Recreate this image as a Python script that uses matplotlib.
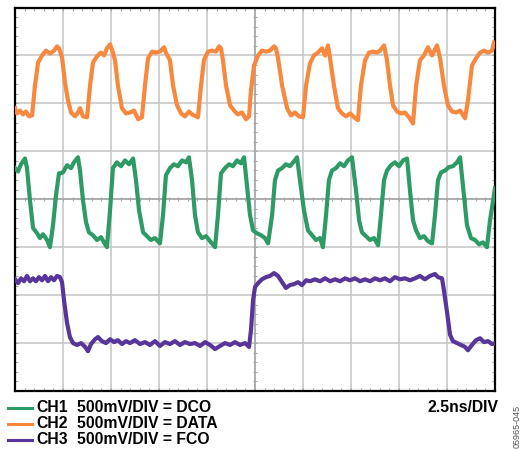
import matplotlib
matplotlib.use("Agg")
import matplotlib.pyplot as plt
from matplotlib.lines import Line2D
import numpy as np

plt.rcParams['font.family'] = ['Liberation Sans', 'DejaVu Sans']

# time in ns (2.5 ns/div), level in screen divisions (0 = centre line)
data_t = [0, 0.10, 0.26, 0.42, 0.57, 0.73, 0.89,
          1.04, 1.20, 1.41, 1.61, 1.82, 2.03, 2.19, 2.29, 2.45, 2.60, 2.76, 2.92, 3.125, 3.28, 3.385, 3.54, 3.75,
          3.91, 4.06, 4.27, 4.48, 4.635, 4.79, 4.95, 5.10, 5.21, 5.36, 5.57, 5.78, 5.99, 6.20, 6.41, 6.61,
          6.77, 6.93, 7.135, 7.34, 7.55, 7.76, 7.86, 8.07, 8.23, 8.44, 8.65, 8.85, 9.06, 9.22, 9.53,
          9.69, 9.84, 10.05, 10.26, 10.47, 10.625, 10.73, 10.83, 10.99, 11.20, 11.41, 11.61, 11.82, 12.03, 12.19,
          12.29, 12.45, 12.66, 12.86, 13.07, 13.28, 13.49, 13.59, 13.70, 13.91, 14.17, 14.375, 14.58, 14.79, 15.0,
          15.16, 15.36, 15.57, 15.78, 15.99, 16.15, 16.30, 16.41, 16.61, 16.82, 17.03, 17.24, 17.45, 17.66, 17.86,
          18.02, 18.23, 18.44, 18.65, 18.85, 19.01, 19.22, 19.375, 19.53, 19.69, 19.90, 20.10, 20.31, 20.52, 20.73,
          20.89, 21.09, 21.30, 21.51, 21.72, 21.98, 22.14, 22.34, 22.55, 22.76, 22.97, 23.18, 23.44,
          23.59, 23.80, 24.01, 24.22, 24.43, 24.64, 24.84, 24.95]
data_v = [1.90, 1.79, 1.85, 1.77, 1.83, 1.73, 1.75,
          2.375, 2.85, 3.0, 3.10, 3.04, 3.10, 3.19, 3.15, 2.96, 2.44, 2.06, 1.81, 1.73, 1.81, 1.90, 1.73, 1.71,
          2.375, 2.85, 2.98, 3.06, 3.0, 3.15, 3.23, 3.06, 2.90, 2.375, 1.90, 1.79, 1.81, 1.85, 1.67, 1.71,
          2.375, 2.94, 3.08, 3.06, 3.08, 3.17, 3.06, 2.90, 2.375, 1.96, 1.79, 1.73, 1.83, 1.77, 1.71,
          2.375, 2.90, 3.08, 3.10, 3.08, 3.19, 3.15, 2.90, 2.375, 1.96, 1.85, 1.77, 1.81, 1.67, 1.73,
          2.27, 2.79, 3.0, 3.10, 3.08, 3.10, 3.19, 3.15, 2.94, 2.375, 1.90, 1.75, 1.81, 1.73, 1.71,
          2.375, 2.83, 3.0, 3.06, 3.15, 3.0, 3.21, 2.94, 2.375, 1.90, 1.79, 1.73, 1.79, 1.71, 1.65,
          2.375, 2.90, 3.06, 3.08, 3.06, 3.10, 3.21, 2.90, 2.375, 1.96, 1.83, 1.79, 1.81, 1.71, 1.58,
          2.375, 2.90, 3.0, 3.17, 3.0, 3.21, 2.94, 2.375, 1.96, 1.83, 1.81, 1.85, 1.69,
          2.06, 2.79, 2.94, 3.06, 3.10, 3.06, 3.10, 3.27]

dco_t = [0, 0.16, 0.31, 0.52, 0.625, 0.78, 0.94, 1.15, 1.30, 1.46, 1.67, 1.82,
         1.98, 2.135, 2.29, 2.5, 2.71, 2.92, 3.07, 3.28, 3.385, 3.54, 3.70, 3.85, 4.06, 4.27, 4.48, 4.635, 4.79,
         4.95, 5.10, 5.31, 5.52, 5.73, 5.94, 6.15, 6.30, 6.46, 6.67, 6.875, 7.08, 7.29, 7.55,
         7.71, 7.86, 8.07, 8.28, 8.49, 8.70, 8.91, 9.06, 9.22, 9.375, 9.53, 9.74, 9.95, 10.16, 10.42,
         10.57, 10.73, 10.94, 11.15, 11.35, 11.56, 11.77, 11.93, 12.08, 12.24, 12.40, 12.60, 12.81, 13.02, 13.18,
         13.39, 13.54, 13.70, 13.91, 14.11, 14.32, 14.53, 14.69, 14.84, 15.05, 15.26, 15.47, 15.68, 15.89, 16.04,
         16.20, 16.35, 16.51, 16.72, 16.93, 17.135, 17.34, 17.55, 17.76, 17.92, 18.07, 18.28, 18.49, 18.70, 18.91,
         19.06, 19.22, 19.375, 19.58, 19.79, 20.0, 20.21, 20.42, 20.57, 20.73, 20.89, 21.09, 21.30, 21.51, 21.72,
         21.875, 22.03, 22.19, 22.40, 22.60, 22.81, 23.02, 23.18, 23.33, 23.54, 23.75, 23.96, 24.17, 24.375, 24.58,
         24.74, 24.90, 25.0]
dco_v = [0.65, 0.58, 0.73, 0.85, 0.65, -0.02, -0.60, -0.71, -0.81, -0.73, -0.85, -1.0,
         -0.54, 0.08, 0.54, 0.56, 0.71, 0.65, 0.77, 0.875, 0.60, -0.02, -0.48, -0.69, -0.75, -0.85, -0.79, -0.90, -1.0,
         -0.23, 0.65, 0.77, 0.69, 0.81, 0.73, 0.85, 0.40, -0.23, -0.69, -0.77, -0.85, -0.81, -0.92,
         -0.33, 0.50, 0.65, 0.73, 0.69, 0.81, 0.77, 0.875, 0.40, -0.33, -0.69, -0.81, -0.77, -0.875, -1.0,
         -0.33, 0.54, 0.65, 0.73, 0.69, 0.81, 0.75, 0.875, 0.29, -0.33, -0.65, -0.71, -0.75, -0.81, -0.92,
         -0.33, 0.40, 0.60, 0.65, 0.73, 0.69, 0.79, 0.875, 0.40, -0.23, -0.65, -0.75, -0.85, -0.81, -1.0,
         -0.33, 0.40, 0.60, 0.65, 0.75, 0.69, 0.81, 0.875, 0.19, -0.44, -0.69, -0.77, -0.85, -0.81, -0.96,
         -0.33, 0.40, 0.60, 0.71, 0.77, 0.69, 0.81, 0.85, 0.19, -0.44, -0.65, -0.81, -0.77, -0.875, -0.92,
         -0.33, 0.40, 0.56, 0.60, 0.67, 0.69, 0.77, 0.875, 0.29, -0.54, -0.81, -0.85, -0.94, -0.90, -1.0,
         -0.44, -0.02, 0.23]

fco_t = [0, 0.16, 0.31, 0.47, 0.625, 0.78, 0.94, 1.09, 1.25, 1.41, 1.5625, 1.72, 1.875, 2.03, 2.19, 2.34,
         2.45, 2.55, 2.71, 2.86, 3.02, 3.23, 3.44, 3.65, 3.80, 3.96, 4.17, 4.32, 4.53, 4.74, 4.95, 5.16, 5.36,
         5.57, 5.78, 5.99, 6.25, 6.51, 6.77, 7.03, 7.29, 7.55, 7.81, 8.07, 8.33, 8.59, 8.85, 9.11, 9.375, 9.64,
         9.90, 10.16, 10.42, 10.68, 10.94, 11.20, 11.46, 11.72, 11.98, 12.19,
         12.29, 12.40, 12.5, 12.66, 12.86, 13.07, 13.28, 13.49, 13.70, 13.91, 14.11, 14.32, 14.53, 14.74, 14.95,
         15.16, 15.36, 15.625, 15.89, 16.15, 16.41, 16.67, 16.93, 17.19, 17.45, 17.71, 17.97, 18.23, 18.49, 18.75,
         19.01, 19.27, 19.53, 19.79, 20.05, 20.31, 20.57, 20.83, 21.09, 21.35, 21.61, 21.875, 22.03, 22.24,
         22.34, 22.5, 22.66, 22.81, 23.02, 23.23, 23.44, 23.59, 23.80, 24.01, 24.22, 24.43, 24.64, 24.84, 25.0]
fco_v = [-1.67, -1.75, -1.65, -1.71, -1.60, -1.71, -1.65, -1.71, -1.625, -1.69, -1.60, -1.71, -1.625, -1.69, -1.60, -1.625,
         -1.73, -2.10, -2.58, -2.875, -3.0, -3.04, -3.0, -3.08, -3.17, -3.02, -2.92, -2.875, -2.96, -3.0, -2.92, -2.98, -2.94,
         -3.02, -2.96, -3.0, -2.94, -3.02, -2.98, -3.04, -2.96, -3.06, -2.98, -3.02, -2.96, -3.04, -2.98, -3.02, -3.0, -3.06,
         -2.98, -3.04, -3.125, -3.06, -3.0, -3.04, -2.98, -3.04, -3.0, -3.08,
         -2.73, -2.10, -1.83, -1.75, -1.67, -1.625, -1.60, -1.54, -1.60, -1.73, -1.85, -1.79, -1.77, -1.73, -1.79,
         -1.69, -1.71, -1.67, -1.71, -1.65, -1.71, -1.67, -1.71, -1.65, -1.69, -1.65, -1.71, -1.67, -1.71, -1.65,
         -1.69, -1.65, -1.71, -1.625, -1.67, -1.65, -1.69, -1.65, -1.60, -1.67, -1.60, -1.56, -1.625, -1.65,
         -1.90, -2.35, -2.83, -2.96, -3.0, -3.04, -3.08, -3.15, -3.04, -2.94, -2.90, -2.98, -2.96, -3.02, -3.0]

channels = ["CH1", "CH2", "CH3"]
scales = ["500mV/DIV = DCO", "500mV/DIV = DATA", "500mV/DIV = FCO"]
colors = ["#2e9a66", "#f7883e", "#573599"]
timebase = "2.5ns/DIV"

fig = plt.figure(figsize=(5.21, 4.50), dpi=100)
ax = fig.add_axes([0.0288, 0.1311, 0.9213, 0.8522])
ax.set_xlim(0, 25)
ax.set_ylim(-4, 4)

# graticule
for x in np.arange(2.5, 25, 2.5):
    ax.axvline(x, color="#c8c8c8", lw=1.2, zorder=0)
for y in np.arange(-3, 4, 1):
    ax.axhline(y, color="#c8c8c8", lw=1.2, zorder=0)
ax.axvline(12.5, color="#a8a8a8", lw=1.2, zorder=0)
ax.axhline(0, color="#a8a8a8", lw=1.2, zorder=0)
mx = np.arange(0.5, 25, 0.5)
my = np.arange(-3.8, 4, 0.2)
ax.plot(mx, np.zeros_like(mx), ls="none", marker="|", ms=3.5, color="#a8a8a8", mew=0.8, zorder=0)
ax.plot(np.full_like(my, 12.5), my, ls="none", marker="_", ms=3.5, color="#a8a8a8", mew=0.8, zorder=0)

ax.set_xticks(mx, minor=True)
ax.set_yticks(my, minor=True)
ax.set_xticks([])
ax.set_yticks([])
ax.tick_params(which="minor", direction="in", length=2.5, width=0.8, color="#a8a8a8",
               top=True, right=True, labelbottom=False, labelleft=False)
for s in ax.spines.values():
    s.set_linewidth(1.6)
    s.set_color("black")

ax.plot(dco_t, dco_v, color=colors[0], lw=3.0, solid_joinstyle="round", zorder=3)
ax.plot(data_t, data_v, color=colors[1], lw=3.0, solid_joinstyle="round", zorder=3)
ax.plot(fco_t, fco_v, color=colors[2], lw=3.0, solid_joinstyle="round", zorder=3)

# legend block below the screen
for i in range(3):
    yy = 1 - (408 + 16 * i) / 450
    fig.add_artist(Line2D([8 / 521, 32 / 521], [yy, yy], color=colors[i], lw=2.2))
    fig.text(36 / 521, yy, channels[i], fontsize=11.3, fontweight="bold", va="center", ha="left")
    fig.text(77 / 521, yy, scales[i], fontsize=11.3, fontweight="bold", va="center", ha="left")
fig.text(499 / 521, 1 - 408 / 450, timebase, fontsize=11.3, fontweight="bold", va="center", ha="right")
fig.text(517 / 521, 2 / 450, "05965-045", fontsize=6.5, color="#555555", rotation=90,
         va="bottom", ha="center")

fig.savefig("out.png", dpi=100)
